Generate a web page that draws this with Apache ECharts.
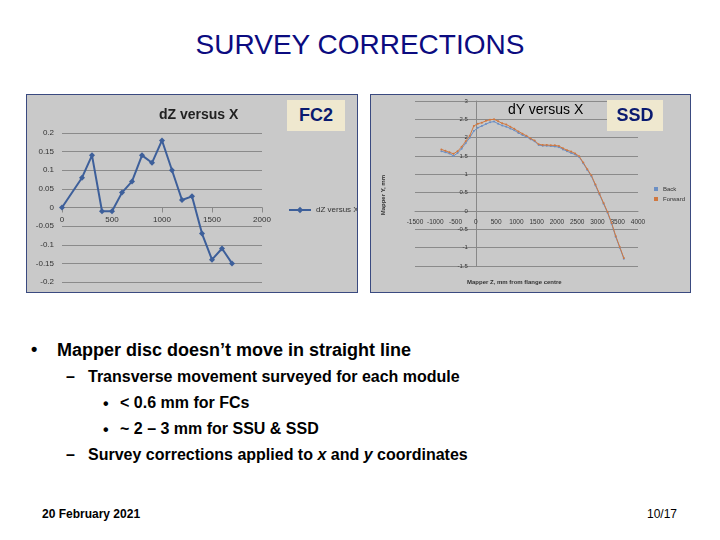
<!DOCTYPE html>
<html><head><meta charset="utf-8">
<script src="https://cdn.jsdelivr.net/npm/echarts@6/dist/echarts.min.js"></script>
<style>
body{margin:0;width:720px;height:540px;background:#fff;position:relative;font-family:"Liberation Sans",Arial,sans-serif;overflow:hidden}
.t{position:absolute;white-space:nowrap;font-weight:bold;color:#000}
.box{position:absolute;border:1px solid #3a4a80;background:#c9c9c9}
.tag{position:absolute;background:#efe8cf;color:#0a1a70;font-weight:bold;font-size:18px;text-align:center;line-height:31px}
</style></head><body>
<div class="t" style="left:0;width:720px;text-align:center;top:29px;font-size:28px;font-weight:normal;color:#0b0b80">SURVEY CORRECTIONS</div>
<div class="box" id="c1" style="left:26px;top:94px;width:330px;height:197px"></div>
<div class="box" id="c2" style="left:370px;top:94px;width:319px;height:197px"></div>
<div class="tag" style="left:287px;top:100px;width:58px;height:31px">FC2</div>
<div class="tag" style="left:607px;top:100px;width:56px;height:31px">SSD</div>
<div class="t" style="left:508px;top:101px;font-size:14px;font-weight:normal">dY versus X</div>
<div class="t" style="left:31px;top:339px;font-size:18px">•</div>
<div class="t" style="left:57px;top:340px;font-size:18px">Mapper disc doesn’t move in straight line</div>
<div class="t" style="left:66px;top:368px;font-size:16px">–</div>
<div class="t" style="left:88px;top:368px;font-size:16px">Transverse movement surveyed for each module</div>
<div class="t" style="left:103px;top:395px;font-size:16px">•</div>
<div class="t" style="left:120px;top:394px;font-size:16px">&lt; 0.6 mm for FCs</div>
<div class="t" style="left:103px;top:421px;font-size:16px">•</div>
<div class="t" style="left:120px;top:420px;font-size:16px">~ 2 – 3 mm for SSU &amp; SSD</div>
<div class="t" style="left:66px;top:446px;font-size:16px">–</div>
<div class="t" style="left:88px;top:446px;font-size:16px">Survey corrections applied to <i>x</i> and <i>y</i> coordinates</div>
<div class="t" style="left:42px;top:507px;font-size:12px">20 February 2021</div>
<div class="t" style="right:43px;top:507px;font-size:12px;font-weight:normal">10/17</div>
<script>
const fcX=[0,200,300,400,500,600,700,800,900,1000,1100,1200,1300,1400,1500,1600,1700];
const fcDZ=[0,0.08,0.14,-0.01,-0.01,0.04,0.07,0.14,0.12,0.18,0.10,0.02,0.03,-0.07,-0.14,-0.11,-0.15];
const ssdBackX=[-850,-750,-650,-550,-450,-350,-250,-150,-50,50,150,250,350,450,550,650,750,850,950,1050,1150,1250,1350,1450,1550,1650,1750,1850,1950,2050,2150,2250,2350,2450,2550,2650,2750,2850,2950,3050,3150,3250,3350,3450,3550,3650];
const ssdBackY=[1.63,1.6,1.57,1.5,1.58,1.7,1.85,2.0,2.18,2.27,2.32,2.37,2.42,2.44,2.38,2.33,2.3,2.25,2.2,2.13,2.07,2.02,1.96,1.9,1.8,1.78,1.78,1.77,1.76,1.74,1.68,1.63,1.58,1.54,1.47,1.3,1.12,0.95,0.7,0.45,0.2,-0.05,-0.35,-0.7,-1.0,-1.3];
const ssdFwdX=[-850,-750,-650,-550,-450,-350,-250,-150,-50,50,150,250,350,450,550,650,750,850,950,1050,1150,1250,1350,1450,1550,1650,1750,1850,1950,2050,2150,2250,2350,2450,2550,2650,2750,2850,2950,3050,3150,3250,3350,3450,3550,3650];
const ssdFwdY=[1.68,1.64,1.6,1.56,1.63,1.75,1.9,2.05,2.32,2.38,2.41,2.46,2.49,2.5,2.45,2.39,2.36,2.3,2.24,2.17,2.11,2.05,1.98,1.92,1.82,1.8,1.8,1.79,1.79,1.77,1.71,1.66,1.62,1.57,1.49,1.32,1.14,0.97,0.72,0.47,0.22,-0.03,-0.33,-0.68,-0.98,-1.28];
const lbl={color:'#333',fontSize:7.5,fontFamily:'Liberation Sans'};
const c1=echarts.init(document.getElementById('c1'));
c1.setOption({animation:false,backgroundColor:'#c9c9c9',
 title:{text:'dZ versus X',left:127,top:8,textStyle:{fontSize:14,fontWeight:'bold',color:'#222',fontFamily:'Liberation Sans'}},
 legend:{left:256,top:106,itemWidth:22,itemHeight:8,itemGap:2,textStyle:{fontSize:8,color:'#333',width:60,overflow:'none'},data:['dZ versus X']},
 grid:{left:35,right:95,top:38,bottom:10},
 xAxis:{type:'value',min:0,max:2000,interval:500,offset:-74.5,axisLine:{lineStyle:{color:'#888'}},axisTick:{show:true,lineStyle:{color:'#888'}},splitLine:{show:false},axisLabel:{...lbl,fontSize:8,formatter:v=>String(v)}},
 yAxis:{type:'value',min:-0.2,max:0.2,interval:0.05,axisLine:{show:false},axisTick:{show:false},splitLine:{lineStyle:{color:'#8a8a8a'}},axisLabel:{...lbl,fontSize:8,formatter:v=>String(+v.toFixed(2))}},
 series:[{name:'dZ versus X',type:'line',data:fcX.map((x,i)=>[x,fcDZ[i]]),symbol:'diamond',symbolSize:6,lineStyle:{color:'#3d5f9a',width:2},itemStyle:{color:'#3d5f9a'}}]});
const c2=echarts.init(document.getElementById('c2'));
c2.setOption({animation:false,backgroundColor:'#c9c9c9',
 legend:{orient:'vertical',left:278,top:86,itemWidth:4,itemHeight:4,itemGap:4,icon:'rect',textStyle:{fontSize:6,color:'#333'},data:['Back','Forward']},
 grid:{left:44,right:52,top:6,bottom:26},
 xAxis:{type:'value',min:-1500,max:4000,interval:500,offset:-55,axisLine:{lineStyle:{color:'#888'}},axisTick:{show:false},splitLine:{show:false},axisLabel:{...lbl,fontSize:6.5,formatter:v=>String(v)}},
 yAxis:{type:'value',min:-1.5,max:3,interval:0.5,offset:-60.8,axisLine:{show:true,lineStyle:{color:'#888'}},axisTick:{show:false},splitLine:{lineStyle:{color:'#8a8a8a'}},axisLabel:{...lbl,fontSize:6}},
 graphic:[{type:'text',left:96,top:184,style:{text:'Mapper Z, mm from flange centre',fontSize:6,fontWeight:'bold',fill:'#333'}},
  {type:'text',left:9,top:80,rotation:Math.PI/2,style:{text:'Mapper Y, mm',fontSize:6,fontWeight:'bold',fill:'#333'}}],
 series:[
  {name:'Back',type:'line',data:ssdBackX.map((x,i)=>[x,ssdBackY[i]]),symbol:'circle',symbolSize:2,lineStyle:{color:'#6b8fc4',width:1},itemStyle:{color:'#6b8fc4'}},
  {name:'Forward',type:'line',data:ssdFwdX.map((x,i)=>[x,ssdFwdY[i]]),symbol:'circle',symbolSize:2,lineStyle:{color:'#d07840',width:1},itemStyle:{color:'#d07840'}}]});
</script></body></html>
